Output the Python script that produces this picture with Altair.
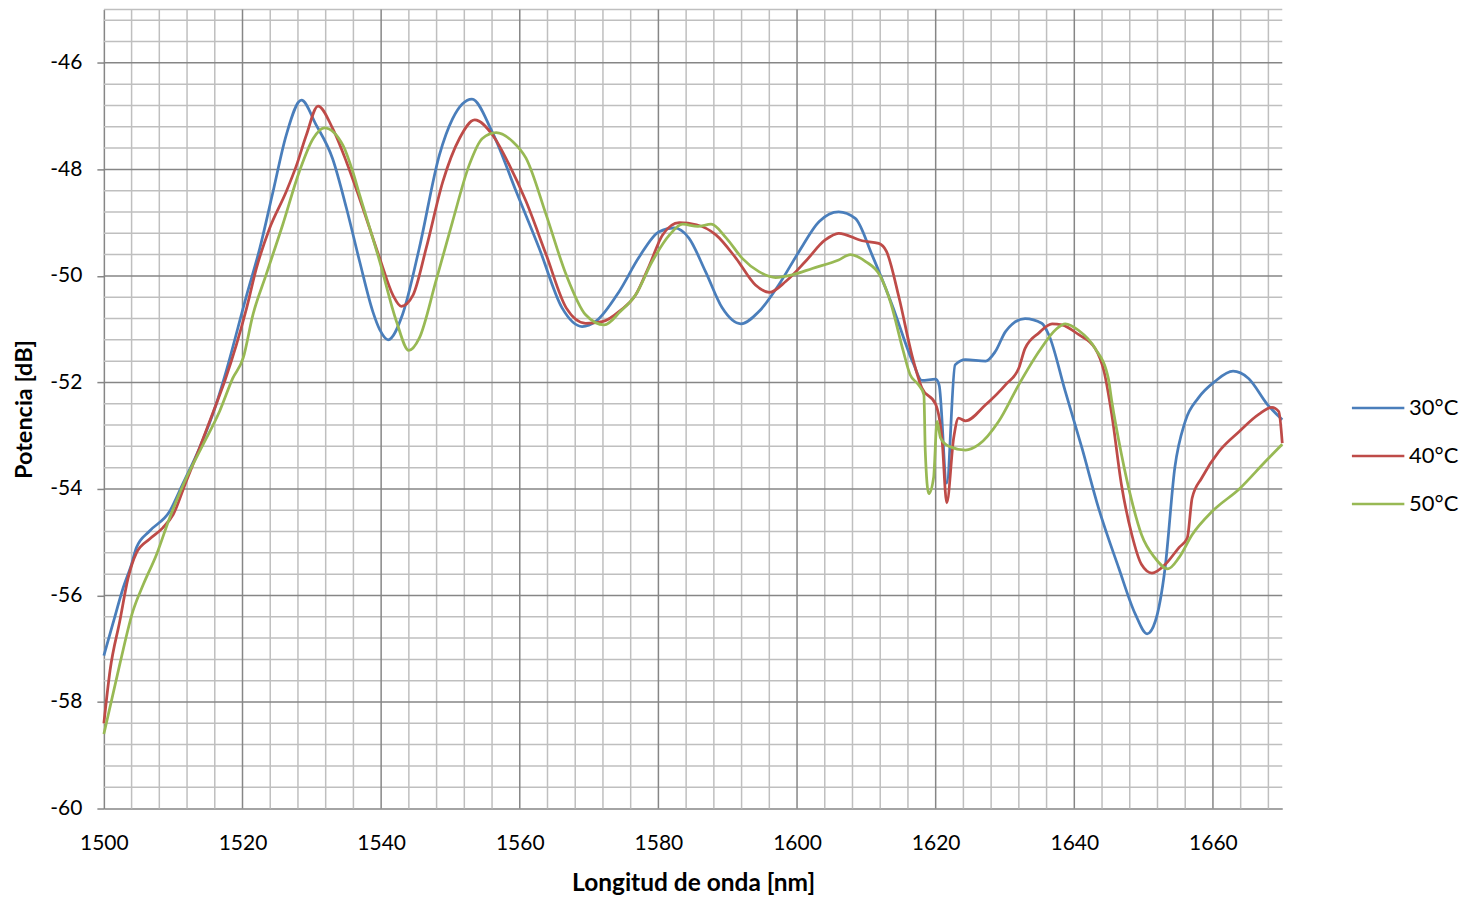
import altair as alt
import pandas as pd
import numpy as np

# ---------------- data ----------------
x30 = [1500, 1501.3, 1502.8, 1504.0, 1504.7, 1506.6, 1509.5, 1511.4, 1513.8, 1516.2, 1517.4,
       1520.6, 1522.5, 1524.4, 1526.3, 1528.5, 1530.6, 1533.0, 1535.0, 1536.9, 1538.8, 1539.8,
       1541.0, 1543.1, 1545.5, 1548.4, 1550.3, 1553.1, 1556.0, 1559.5, 1562.8, 1566.1, 1569.0,
       1571.0, 1574.3, 1577.2, 1580.1, 1582.3, 1584.4, 1586.8, 1589.2, 1591.9, 1594.5, 1597.4,
       1600.3, 1603.2, 1606.0, 1608.4, 1610.8, 1613.7, 1616.8, 1618.0, 1620.0, 1620.5, 1621.6,
       1622.8, 1624.3, 1627.2, 1628.6, 1630.1, 1632.9, 1635.3, 1636.3, 1638.7, 1641.1, 1643.5,
       1646.4, 1648.8, 1650.5, 1651.7, 1653.1, 1654.5, 1656.0, 1657.9, 1660.3, 1662.9, 1665.1,
       1667.9, 1670.0]
y30 = [-57.13, -56.53, -55.85, -55.41, -55.10, -54.79, -54.42, -53.90, -53.23, -52.41, -51.90,
       -50.36, -49.48, -48.42, -47.36, -46.70, -47.16, -47.80, -48.73, -49.73, -50.67, -51.01,
       -51.20, -50.72, -49.48, -47.73, -47.05, -46.68, -47.29, -48.42, -49.48, -50.60, -50.95,
       -50.85, -50.30, -49.65, -49.17, -49.10, -49.29, -49.92, -50.60, -50.90, -50.67, -50.16,
       -49.54, -48.98, -48.80, -48.92, -49.60, -50.54, -51.65, -51.96, -51.94, -52.05, -53.89,
       -51.67, -51.57, -51.60, -51.42, -51.04, -50.80, -50.89, -51.10, -52.17, -53.23, -54.36,
       -55.48, -56.35, -56.72, -56.48, -55.48, -53.60, -52.73, -52.29, -51.98, -51.79, -51.92,
       -52.42, -52.70]

x40 = [1500, 1500.9, 1502.3, 1503.5, 1504.7, 1506.6, 1508.5, 1510.0, 1511.9, 1513.8, 1516.2,
       1517.5, 1520.6, 1522.0, 1523.9, 1526.3, 1527.8, 1529.2, 1530.9, 1533.0, 1535.0, 1536.9,
       1539.8, 1541.7, 1542.9, 1544.6, 1546.5, 1548.9, 1551.3, 1553.5, 1556.1, 1558.5, 1560.9,
       1563.8, 1566.7, 1569.5, 1571.9, 1574.5, 1576.7, 1578.7, 1580.6, 1583.0, 1585.5, 1588.3,
       1591.2, 1594.0, 1596.0, 1598.4, 1601.2, 1604.1, 1606.0, 1609.4, 1611.8, 1612.9, 1614.7,
       1616.6, 1618.0, 1620.0, 1620.9, 1621.6, 1622.6, 1623.3, 1624.3, 1627.2, 1630.1, 1632.0,
       1632.9, 1634.9, 1636.8, 1638.2, 1640.6, 1643.0, 1644.3, 1645.4, 1646.8, 1648.3, 1649.7,
       1651.2, 1653.1, 1655.1, 1656.3, 1657.0, 1658.4, 1660.9, 1663.8, 1666.6, 1668.5, 1669.5,
       1670.0]
y40 = [-58.40, -57.40, -56.48, -55.67, -55.20, -54.94, -54.73, -54.48, -53.85, -53.23, -52.41,
       -51.95, -50.60, -49.86, -49.11, -48.42, -47.92, -47.36, -46.81, -47.23, -47.86, -48.55,
       -49.67, -50.36, -50.57, -50.36, -49.48, -48.23, -47.42, -47.07, -47.36, -47.92, -48.60,
       -49.60, -50.60, -50.89, -50.86, -50.65, -50.36, -49.80, -49.23, -49.00, -49.04, -49.23,
       -49.67, -50.17, -50.31, -50.10, -49.73, -49.32, -49.20, -49.34, -49.39, -49.54, -50.40,
       -51.50, -52.10, -52.41, -53.04, -54.26, -53.04, -52.67, -52.72, -52.42, -52.04, -51.73,
       -51.36, -51.07, -50.90, -50.92, -51.10, -51.36, -51.80, -52.60, -53.92, -54.86, -55.42,
       -55.58, -55.42, -55.10, -54.92, -54.17, -53.79, -53.29, -52.92, -52.60, -52.47, -52.55,
       -53.14]

x50 = [1500, 1502.3, 1504.2, 1505.7, 1507.6, 1509.5, 1511.9, 1514.3, 1516.7, 1518.6, 1520.1,
       1521.5, 1523.4, 1525.8, 1528.2, 1530.2, 1531.8, 1534.5, 1535.9, 1536.9, 1539.8, 1542.2,
       1544.0, 1545.5, 1547.9, 1550.3, 1552.7, 1554.6, 1556.6, 1559.0, 1560.9, 1563.8, 1566.7,
       1569.5, 1572.2, 1574.5, 1576.7, 1579.1, 1581.6, 1583.5, 1585.7, 1587.6, 1589.8, 1592.1,
       1594.5, 1596.9, 1599.3, 1602.2, 1606.0, 1607.7, 1609.9, 1612.0, 1613.5, 1615.3, 1616.3,
       1617.5, 1618.3, 1618.5, 1619.0, 1619.7, 1620.2, 1620.7, 1621.9, 1624.3, 1626.2, 1629.1,
       1632.0, 1634.9, 1637.3, 1638.7, 1640.6, 1643.0, 1644.9, 1645.4, 1646.8, 1648.3, 1649.7,
       1651.6, 1653.5, 1655.1, 1657.0, 1659.9, 1663.8, 1667.6, 1670.0]
y50 = [-58.60, -57.29, -56.29, -55.79, -55.23, -54.54, -53.79, -53.17, -52.54, -51.92, -51.54,
       -50.73, -49.98, -49.04, -48.04, -47.42, -47.22, -47.55, -48.04, -48.48, -49.73, -50.85,
       -51.40, -51.17, -50.10, -48.98, -47.92, -47.42, -47.31, -47.48, -47.79, -48.85, -49.98,
       -50.73, -50.92, -50.67, -50.36, -49.73, -49.23, -49.03, -49.07, -49.03, -49.29, -49.67,
       -49.92, -50.03, -49.98, -49.86, -49.70, -49.60, -49.73, -50.00, -50.50, -51.40, -51.85,
       -52.04, -52.23, -53.29, -54.09, -53.79, -52.73, -53.04, -53.20, -53.27, -53.17, -52.73,
       -52.04, -51.42, -51.01, -50.90, -51.02, -51.36, -51.92, -52.35, -53.35, -54.23, -54.86,
       -55.29, -55.50, -55.29, -54.86, -54.42, -54.00, -53.48, -53.16]

series_names = ["30°C", "40°C", "50°C"]
series_colors = ["#4A7EBB", "#BE4B48", "#98B954"]

x_ticks = list(range(1500, 1661, 20))
y_ticks = list(range(-60, -45, 2))

# ---------------- tables ----------------
frames = []
for name, xs, ys in zip(series_names, [x30, x40, x50], [y30, y40, y50]):
    frames.append(pd.DataFrame({"wl": xs, "p": ys, "serie": name}))
df = pd.concat(frames, ignore_index=True)

minor_x = pd.DataFrame({"wl": [v for v in range(1504, 1670, 4) if v % 20 != 0]})
major_x = pd.DataFrame({"wl": [v for v in x_ticks if v != 1500]})
mv = [round(-60 + 0.4 * k, 1) for k in range(1, 38)]
minor_y = pd.DataFrame({"p": [v for v in mv if abs(v / 2 - round(v / 2)) > 1e-6] + [-45]})
major_y = pd.DataFrame({"p": [v for v in y_ticks if v != -60]})

FONT = "Lato"
MAJOR = "#868686"
MINOR = "#BFBFBF"

xscale = alt.Scale(domain=[1500, 1670], nice=False, zero=False)
yscale = alt.Scale(domain=[-60, -45], nice=False, zero=False)

xaxis = alt.Axis(title="Longitud de onda [nm]", values=x_ticks, grid=False, format="d",
                 ticks=False, labelPadding=24, labelFontSize=21, labelFont=FONT,
                 labelColor="#000000", titleFont=FONT, titleFontSize=24.5,
                 titleFontWeight="bold", titleColor="#000000", titlePadding=18,
                 domainColor=MAJOR, domainWidth=1.5, labelFlush=False)
yaxis = alt.Axis(title="Potencia [dB]", values=y_ticks, grid=False,
                 labelExpr="'' + datum.value",
                 tickSize=7, tickColor=MAJOR, tickWidth=1.5, labelPadding=15,
                 labelFontSize=21, labelFont=FONT, labelColor="#000000",
                 titleFont=FONT, titleFontSize=23.5, titleFontWeight="bold",
                 titleColor="#000000", titleX=-79, titleY=400,
                 titleAngle=-90, titleAlign="center", titleBaseline="middle",
                 domainColor=MAJOR, domainWidth=1.5, labelFlush=False)

X = alt.X("wl:Q", scale=xscale, axis=xaxis)
Y = alt.Y("p:Q", scale=yscale, axis=yaxis)

g_minor_x = alt.Chart(minor_x).mark_rule(color=MINOR, strokeWidth=1.5).encode(x=X)
g_minor_y = alt.Chart(minor_y).mark_rule(color=MINOR, strokeWidth=1.5).encode(y=Y)
g_major_x = alt.Chart(major_x).mark_rule(color=MAJOR, strokeWidth=1.5).encode(x=X)
g_major_y = alt.Chart(major_y).mark_rule(color=MAJOR, strokeWidth=1.5).encode(y=Y)

lines = alt.Chart(df).mark_line(strokeWidth=2.75, interpolate="monotone").encode(
    x=X, y=Y,
    color=alt.Color("serie:N",
                    scale=alt.Scale(domain=series_names, range=series_colors),
                    legend=alt.Legend(title=None, orient="none", legendX=1264, legendY=387,
                                      symbolType="M-2.5,0H2.5", symbolSize=441,
                                      symbolStrokeWidth=2.5, labelFont=FONT,
                                      labelFontSize=22, labelColor="#000000",
                                      labelOffset=19, rowPadding=25)),
)

chart = alt.layer(g_minor_x, g_minor_y, g_major_x, g_major_y, lines).properties(
    width=1180, height=800,
    padding={"left": 96, "top": 1, "right": 190, "bottom": 90},
    autosize=alt.AutoSizeParams(type="none"),
).configure_view(stroke=None)

chart.save("out.html", embed_options={"renderer": "svg", "actions": False})
